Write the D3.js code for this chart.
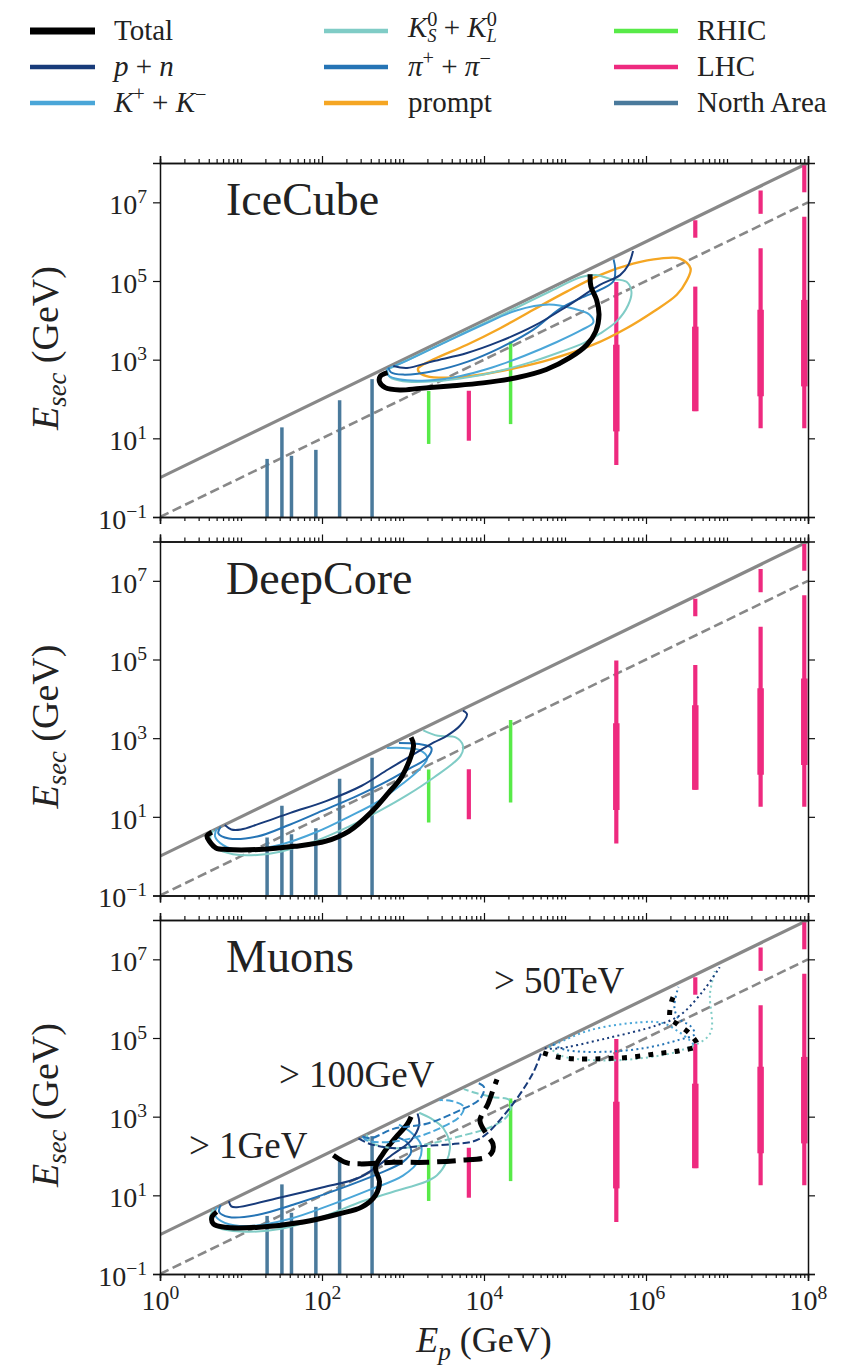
<!DOCTYPE html>
<html>
<head>
<meta charset="utf-8">
<script src="https://cdn.jsdelivr.net/npm/d3@7"></script>
<style>
  body { margin: 0; background: #fff; }
  svg text { font-family: "Liberation Serif", "DejaVu Serif", serif; fill: #222; }
</style>
</head>
<body>
<svg id="chart" width="864" height="1366"></svg>
<script>
// ---------------- data (energies in GeV) ----------------
const panelNames = ['IceCube', 'DeepCore', 'Muons'];
const yTickValues = [1e-1, 1e1, 1e3, 1e5, 1e7];
const xTickValues = [1e0, 1e2, 1e4, 1e6, 1e8];

// North Area beams: beam energy and top of covered E_sec range
const naBeam = [21, 32, 42, 84, 165, 415];
const naTop = [3.0, 19, 3.6, 5.1, 93, 320];

// RHIC: lab-frame beam energy, covered E_sec range
const rhicBeam = [2075, 21300];
const rhicRange = [[7.2, 160], [23, 2900]];

// LHC: lab-frame beam energy, covered E_sec range, coverage kind
const lhcBeam = [6500, 4.3e5, 4.3e5, 4.06e6, 4.06e6, 4.06e6, 2.6e7, 2.6e7, 2.6e7, 9.0e7, 9.0e7, 9.0e7];
const lhcRange = [[8.7, 162], [2.1, 9.5e4], [15, 2400], [1.26e6, 3.5e6], [49, 7.2e4], [49, 6900],
                  [5.1e6, 2.0e7], [18, 6.8e5], [117, 1.86e4], [1.8e7, 8.7e7], [18, 4.3e6], [209, 3.3e4]];
const lhcKind = ['thin', 'thin', 'thick', 'thin', 'thin', 'thick', 'thin', 'thin', 'thick', 'thin', 'thin', 'thick'];

// contours, as [log10 E_p, log10 E_sec]
// IceCube
const iceTotal = [[2.81,2.67],[2.72,2.58],[2.71,2.44],[2.78,2.29],[2.96,2.23],[3.21,2.27],[3.58,2.33],[3.99,2.41],[4.40,2.54],[4.77,2.75],[5.06,3.05],[5.27,3.38],[5.38,3.72],[5.42,4.14],[5.39,4.52],[5.32,4.86],[5.31,5.17]];
const icePN = [[2.88,2.84],[3.05,2.79],[3.37,2.96],[3.79,3.17],[4.20,3.47],[4.61,3.85],[5.02,4.35],[5.43,4.90],[5.68,5.15],[5.78,5.40],[5.84,5.76]];
const iceKpm = [[2.80,2.76],[2.82,2.60],[2.95,2.50],[3.30,2.47],[3.70,2.58],[4.10,2.80],[4.50,3.10],[4.90,3.45],[5.20,3.75],[5.35,3.95],[5.30,4.15],[5.10,4.30],[4.80,4.40],[4.40,4.25],[4.00,3.90],[3.50,3.42],[3.00,2.93],[2.80,2.76]];
const iceK0 = [[2.80,2.74],[2.84,2.55],[3.00,2.45],[3.40,2.45],[3.80,2.55],[4.20,2.72],[4.60,2.95],[4.95,3.20],[5.23,3.42],[5.43,3.66],[5.64,3.98],[5.78,4.39],[5.82,4.73],[5.76,4.98],[5.55,5.06],[5.38,5.15],[5.20,5.10],[4.80,4.72],[4.30,4.22],[3.80,3.73],[3.30,3.23],[2.80,2.74]];
const icePi = [[2.82,2.80],[2.85,2.68],[3.00,2.62],[3.40,2.72],[3.80,2.95],[4.20,3.30],[4.60,3.75],[4.94,4.30],[5.19,4.56],[5.47,4.81],[5.60,5.00],[5.62,5.30],[5.60,5.55]];
const icePrompt = [[3.19,2.79],[3.37,3.00],[3.79,3.38],[4.20,3.80],[4.61,4.27],[5.02,4.73],[5.43,5.15],[5.84,5.44],[6.17,5.57],[6.42,5.57],[6.55,5.32],[6.50,5.00],[6.38,4.65],[6.09,4.22],[5.76,3.80],[5.35,3.38],[4.81,3.00],[4.40,2.79],[3.99,2.63],[3.58,2.54],[3.29,2.58],[3.19,2.71]];
// DeepCore
const dcTotal = [[0.64,0.61],[0.58,0.51],[0.61,0.38],[0.69,0.21],[0.83,0.17],[1.22,0.17],[1.66,0.25],[2.05,0.38],[2.33,0.63],[2.60,1.10],[2.82,1.61],[2.99,2.04],[3.13,2.81],[3.10,3.02]];
const dcPN = [[0.80,0.79],[0.88,0.68],[1.00,0.68],[1.22,0.82],[1.61,1.10],[2.05,1.40],[2.49,1.79],[2.82,2.21],[3.10,2.55],[3.38,2.89],[3.54,3.06],[3.70,3.31],[3.79,3.61],[3.74,3.70]];
const dcK0 = [[0.66,0.66],[0.62,0.45],[0.70,0.20],[0.90,0.05],[1.20,0.03],[1.50,0.12],[1.94,0.40],[2.33,0.75],[2.71,1.15],[3.05,1.55],[3.38,2.00],[3.71,2.55],[3.74,2.81],[3.65,3.02],[3.43,3.06],[3.25,3.20]];
const dcKpm = [[0.70,0.70],[0.68,0.50],[0.78,0.28],[1.00,0.15],[1.50,0.30],[1.94,0.62],[2.33,1.00],[2.70,1.40],[3.00,1.85],[3.20,2.20],[3.30,2.50],[3.20,2.70],[3.00,2.75],[2.80,2.75]];
const dcPi = [[0.75,0.75],[0.72,0.58],[0.85,0.45],[1.20,0.50],[1.60,0.80],[2.00,1.15],[2.40,1.50],[2.80,1.90],[3.10,2.25],[3.30,2.50],[3.35,2.75],[3.20,2.85],[2.95,2.88]];
// Muons > 1 GeV
const muTotal1 = [[0.70,0.58],[0.64,0.44],[0.66,0.27],[0.80,0.19],[1.22,0.19],[1.77,0.32],[2.21,0.53],[2.49,0.70],[2.66,1.00],[2.71,1.35],[2.66,1.70],[2.75,2.05],[2.90,2.45],[3.05,2.80],[3.10,3.00]];
const muPN1 = [[0.85,0.85],[0.88,0.72],[0.95,0.70],[1.50,0.95],[2.00,1.20],[2.47,1.46],[2.88,2.05],[3.10,2.40],[3.20,2.80],[3.18,3.08]];
const muK01 = [[0.66,0.64],[0.62,0.42],[0.72,0.18],[1.00,0.08],[1.50,0.15],[2.00,0.45],[2.50,0.85],[2.88,1.09],[3.42,1.51],[3.58,2.19],[3.50,2.70],[3.35,2.95],[3.20,3.10]];
const muKpm1 = [[0.70,0.70],[0.68,0.50],[0.80,0.30],[1.10,0.22],[1.60,0.40],[2.10,0.75],[2.60,1.15],[3.00,1.50],[3.20,1.90],[3.22,2.30],[3.10,2.60],[2.95,2.80]];
const muPi1 = [[0.75,0.75],[0.73,0.58],[0.85,0.45],[1.20,0.50],[1.70,0.80],[2.20,1.15],[2.70,1.55],[3.00,1.85],[3.10,2.10],[3.05,2.35],[2.90,2.50]];
// Muons > 100 GeV
const muTotal2 = [[2.14,2.02],[2.30,1.83],[2.47,1.80],[2.88,1.84],[3.29,1.84],[3.70,1.89],[4.03,1.97],[4.11,2.14],[4.11,2.31],[4.03,2.56],[3.95,2.90],[4.05,3.33],[4.11,3.67],[4.16,3.95]];
const muPN2 = [[2.45,2.45],[2.60,2.30],[2.90,2.20],[3.21,2.25],[3.60,2.30],[3.93,2.42],[4.26,3.07],[4.60,4.09],[4.71,4.65]];
const muK02 = [[2.55,2.55],[2.60,2.35],[2.90,2.20],[3.30,2.30],[3.70,2.50],[4.10,2.75],[4.30,3.05],[4.32,3.41],[4.10,3.50],[3.90,3.60],[3.75,3.70]];
const muKpm2 = [[2.50,2.50],[2.55,2.40],[2.80,2.35],[3.20,2.50],[3.50,2.75],[3.70,3.00],[3.75,3.25],[3.60,3.40],[3.45,3.42]];
const muPi2 = [[2.50,2.50],[2.60,2.45],[2.88,2.69],[3.29,2.82],[3.70,3.16],[3.95,3.45],[4.00,3.75],[3.90,3.88]];
// Muons > 50 TeV
const muTotal3 = [[4.73,4.62],[4.90,4.52],[5.10,4.47],[5.43,4.47],[5.80,4.51],[6.13,4.60],[6.42,4.68],[6.63,4.81],[6.54,5.11],[6.38,5.36],[6.30,5.49],[6.32,5.96],[6.38,6.21]];
const muPN3 = [[4.75,4.74],[4.90,4.73],[5.51,4.99],[6.13,5.32],[6.42,5.58],[6.71,6.21],[6.91,6.80]];
const muKpm3 = [[4.80,4.78],[4.90,4.86],[5.31,5.20],[5.93,5.40],[6.21,5.38],[6.38,5.19],[6.54,4.94],[6.60,4.80]];
const muK03 = [[4.80,4.78],[4.95,4.55],[5.43,4.43],[6.00,4.50],[6.45,4.70],[6.79,5.11],[6.79,6.13],[6.85,6.70]];
const muPi3 = [[4.85,4.84],[5.00,4.70],[5.50,4.65],[6.00,4.75],[6.40,4.95],[6.60,5.10],[6.55,5.30],[6.40,5.50],[6.35,5.80],[6.40,6.30]];

// ---------------- styling ----------------
const colors = {
  total: '#000000', pn: '#183b7a', kpm: '#4aa6d8', k0: '#80ccc6', pi: '#2574b5',
  prompt: '#f5a623', rhic: '#58ea48', lhc: '#ee2a7f', na: '#4a7a9c', ref: '#888888'
};
const FONT = '"Liberation Serif", "DejaVu Serif", serif';

// which contours go into which panel
const panelContours = [
  [
    { kind: 'prompt', pts: icePrompt, style: 'solid', closed: true },
    { kind: 'k0', pts: iceK0, style: 'solid' },
    { kind: 'kpm', pts: iceKpm, style: 'solid' },
    { kind: 'pi', pts: icePi, style: 'solid' },
    { kind: 'pn', pts: icePN, style: 'solid' },
    { kind: 'total', pts: iceTotal, style: 'solid' }
  ],
  [
    { kind: 'k0', pts: dcK0, style: 'solid' },
    { kind: 'kpm', pts: dcKpm, style: 'solid' },
    { kind: 'pi', pts: dcPi, style: 'solid' },
    { kind: 'pn', pts: dcPN, style: 'solid' },
    { kind: 'total', pts: dcTotal, style: 'solid' }
  ],
  [
    { kind: 'k0', pts: muK01, style: 'solid' },
    { kind: 'kpm', pts: muKpm1, style: 'solid' },
    { kind: 'pi', pts: muPi1, style: 'solid' },
    { kind: 'pn', pts: muPN1, style: 'solid' },
    { kind: 'total', pts: muTotal1, style: 'solid' },
    { kind: 'k0', pts: muK02, style: 'dashed' },
    { kind: 'kpm', pts: muKpm2, style: 'dashed' },
    { kind: 'pi', pts: muPi2, style: 'dashed' },
    { kind: 'pn', pts: muPN2, style: 'dashed' },
    { kind: 'total', pts: muTotal2, style: 'dashed' },
    { kind: 'k0', pts: muK03, style: 'dotted' },
    { kind: 'kpm', pts: muKpm3, style: 'dotted' },
    { kind: 'pi', pts: muPi3, style: 'dotted' },
    { kind: 'pn', pts: muPN3, style: 'dotted' },
    { kind: 'total', pts: muTotal3, style: 'dotted' }
  ]
];

// ---------------- layout ----------------
const svg = d3.select('#chart');
const plotLeft = 160, plotRight = 808;
const panelTops = [163, 541.5, 920];
const panelH = 354;

const x = d3.scaleLog().domain([1, 1e8]).range([plotLeft, plotRight]);

// math-ish text helper
function mathText(sel, parts, size) {
  sel.style('font-family', FONT);
  parts.forEach(p => {
    const ts = sel.append('tspan').text(p.t);
    if (p.i) ts.attr('font-style', 'italic');
    if (p.sup) ts.attr('font-size', size * 0.7).attr('dy', -size * 0.38);
    if (p.sub) ts.attr('font-size', size * (p.small || 0.7)).attr('dy', size * 0.22);
    if (p.dx) ts.attr('dx', p.dx);
    if (p.reset) ts.attr('dy', p.reset);
  });
}

function powLabel(sel, exp, size) {
  sel.text(null);
  sel.append('tspan').text('10');
  sel.append('tspan').text(exp).attr('font-size', size * 0.7).attr('dy', -size * 0.4);
}

const minorTicks = [];
for (let k = 0; k < 8; k++) {
  for (let j = 1; j < 10; j++) {
    if (j === 1 && k % 2 === 0) continue;
    minorTicks.push(j * Math.pow(10, k));
  }
}

const lineGen = d3.line().curve(d3.curveCatmullRom.alpha(0.5));
const closedGen = d3.line().curve(d3.curveCatmullRomClosed.alpha(0.5));

panelNames.forEach((name, pi) => {
  const top = panelTops[pi];
  const y = d3.scaleLog().domain([0.1, 1e8]).range([top + panelH, top]);
  const g = svg.append('g');

  const clipId = 'clip' + pi;
  svg.append('clipPath').attr('id', clipId)
    .append('rect').attr('x', plotLeft).attr('y', top).attr('width', plotRight - plotLeft).attr('height', panelH);

  const plot = g.append('g').attr('clip-path', `url(#${clipId})`);

  // reference lines E_sec = E_p and E_sec = 0.1 E_p
  plot.append('line')
    .attr('x1', x(1)).attr('y1', y(1)).attr('x2', x(1e8)).attr('y2', y(1e8))
    .attr('stroke', colors.ref).attr('stroke-width', 3.2);
  plot.append('line')
    .attr('x1', x(1)).attr('y1', y(0.1)).attr('x2', x(1e8)).attr('y2', y(1e7))
    .attr('stroke', colors.ref).attr('stroke-width', 2.6).attr('stroke-dasharray', '9.5,4.5');

  // North Area
  plot.selectAll('.na').data(naBeam).enter().append('line')
    .attr('x1', d => x(d)).attr('x2', d => x(d))
    .attr('y1', y(0.1)).attr('y2', (d, i) => y(naTop[i]))
    .attr('stroke', colors.na).attr('stroke-width', 3.5);

  // RHIC
  plot.selectAll('.rhic').data(rhicBeam).enter().append('line')
    .attr('x1', d => x(d)).attr('x2', d => x(d))
    .attr('y1', (d, i) => y(rhicRange[i][0])).attr('y2', (d, i) => y(rhicRange[i][1]))
    .attr('stroke', colors.rhic).attr('stroke-width', 3.5);

  // LHC
  plot.selectAll('.lhc').data(lhcBeam).enter().append('line')
    .attr('x1', d => x(d)).attr('x2', d => x(d))
    .attr('y1', (d, i) => y(lhcRange[i][0])).attr('y2', (d, i) => y(lhcRange[i][1]))
    .attr('stroke', colors.lhc)
    .attr('stroke-width', (d, i) => lhcKind[i] === 'thick' ? 6.5 : 4.2);

  // contours
  panelContours[pi].forEach(c => {
    const w = c.kind === 'total' ? 5 : (c.kind === 'prompt' ? 2.4 : 2);
    let dash = null;
    if (c.style === 'dashed') dash = `${3.7 * w},${1.6 * w}`;
    if (c.style === 'dotted') dash = `${1 * w},${1.65 * w}`;
    const pts = c.pts.map(p => [x(Math.pow(10, p[0])), y(Math.pow(10, p[1]))]);
    plot.append('path')
      .attr('d', c.closed ? closedGen(pts) : lineGen(pts))
      .attr('fill', 'none')
      .attr('stroke', colors[c.kind])
      .attr('stroke-width', w)
      .attr('stroke-linejoin', 'round')
      .attr('stroke-dasharray', dash);
  });

  // axes
  const axStyle = a => {
    a.attr('font-family', FONT);
    a.select('.domain').attr('stroke', '#111').attr('stroke-width', 1.5);
    a.selectAll('.tick line').attr('stroke', '#111').attr('stroke-width', 1.2);
  };
  axStyle(g.append('g').attr('transform', `translate(0,${top + panelH})`)
    .call(d3.axisBottom(x).tickValues(minorTicks).tickSize(4).tickFormat('')));
  axStyle(g.append('g').attr('transform', `translate(0,${top})`)
    .call(d3.axisTop(x).tickValues(minorTicks).tickSize(4).tickFormat('')));
  const bottomAx = g.append('g').attr('transform', `translate(0,${top + panelH})`)
    .call(d3.axisBottom(x).tickValues(xTickValues).tickSize(7).tickPadding(6));
  axStyle(bottomAx);
  axStyle(g.append('g').attr('transform', `translate(0,${top})`)
    .call(d3.axisTop(x).tickValues(xTickValues).tickSize(7).tickFormat('')));
  const leftAx = g.append('g').attr('transform', `translate(${plotLeft},0)`)
    .call(d3.axisLeft(y).tickValues(yTickValues).tickSize(7).tickPadding(6));
  axStyle(leftAx);
  axStyle(g.append('g').attr('transform', `translate(${plotRight},0)`)
    .call(d3.axisRight(y).tickValues(yTickValues).tickSize(7).tickFormat('')));

  const tickSize = 28;
  leftAx.selectAll('.tick text')
    .attr('font-size', tickSize).style('font-family', FONT).attr('fill', '#222')
    .attr('dy', '0.4em')
    .each(function (d) { powLabel(d3.select(this), d >= 1 ? String(Math.round(Math.log10(d))) : '\u22121', tickSize); });

  if (pi === 2) {
    bottomAx.selectAll('.tick text')
      .attr('font-size', tickSize).style('font-family', FONT).attr('fill', '#222')
      .attr('dy', '0.82em')
      .each(function (d) { powLabel(d3.select(this), String(Math.round(Math.log10(d))), tickSize); });
  } else {
    bottomAx.selectAll('.tick text').remove();
  }

  // panel name
  g.append('text').attr('x', 226).attr('y', top + 52).attr('font-size', 46)
    .style('font-family', FONT).text(name);

  // y label
  const yl = g.append('text')
    .attr('transform', `translate(58,${top + panelH / 2 + 8}) rotate(-90)`)
    .attr('text-anchor', 'middle').attr('font-size', 38);
  mathText(yl, [{ t: 'E', i: true }, { t: 'sec', i: true, sub: true }, { t: ' (GeV)', reset: -38 * 0.22 }], 38);
});

// threshold annotations in the muon panel
const annots = [['> 1GeV', 189, 1158], ['> 100GeV', 279, 1087], ['> 50TeV', 494, 993]];
annots.forEach(a => {
  svg.append('text').attr('x', a[1]).attr('y', a[2]).attr('font-size', 37)
    .style('font-family', FONT).text(a[0]);
});

// x label
const xl = svg.append('text').attr('x', 484).attr('y', 1352).attr('text-anchor', 'middle').attr('font-size', 36);
mathText(xl, [{ t: 'E', i: true }, { t: 'p', i: true, sub: true }, { t: ' (GeV)', reset: -36 * 0.22 }], 36);

// ---------------- legend ----------------
const L = 29;
const legendItems = [
  { kind: 'total', label: [{ t: 'Total' }] },
  { kind: 'pn', label: [{ t: 'p', i: true }, { t: ' + ' }, { t: 'n', i: true }] },
  { kind: 'kpm', label: [{ t: 'K', i: true }, { t: '+', sup: true }, { t: ' + ', reset: L * 0.38 }, { t: 'K', i: true }, { t: '\u2212', sup: true }] },
  { kind: 'k0', shift: -3, label: [{ t: 'K', i: true }, { t: '0', sup: true }, { t: 'S', i: true, sub: true, small: 0.62, dx: -10, reset: L * 0.56 }, { t: ' + ', reset: -L * 0.18 }, { t: 'K', i: true }, { t: '0', sup: true }, { t: 'L', i: true, sub: true, small: 0.62, dx: -10, reset: L * 0.56 }] },
  { kind: 'pi', label: [{ t: '\u03c0', i: true }, { t: '+', sup: true }, { t: ' + ', reset: L * 0.38 }, { t: '\u03c0', i: true }, { t: '\u2212', sup: true }] },
  { kind: 'prompt', label: [{ t: 'prompt' }] },
  { kind: 'rhic', label: [{ t: 'RHIC' }] },
  { kind: 'lhc', label: [{ t: 'LHC' }] },
  { kind: 'na', label: [{ t: 'North Area' }] }
];
const legCols = [[30, 95, 114], [324, 388, 408], [614, 678, 697]];
const legRows = [31, 67, 103];
legendItems.forEach((it, i) => {
  const col = legCols[Math.floor(i / 3)];
  const row = legRows[i % 3];
  svg.append('line').attr('x1', col[0]).attr('x2', col[1]).attr('y1', row).attr('y2', row)
    .attr('stroke', colors[it.kind]).attr('stroke-width', it.kind === 'total' ? 7 : 4.5);
  const t = svg.append('text').attr('x', col[2]).attr('y', row + 9 + (it.shift || 0)).attr('font-size', L);
  mathText(t, it.label, L);
});
</script>
</body>
</html>
